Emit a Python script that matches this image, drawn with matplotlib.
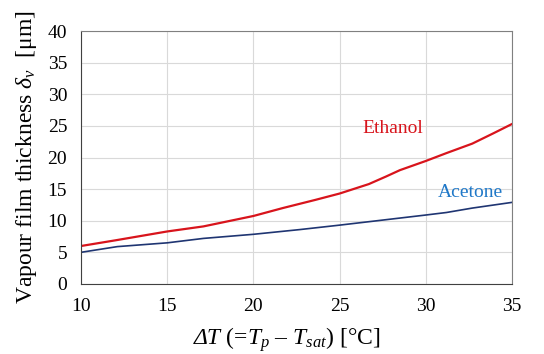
import matplotlib
matplotlib.use("Agg")
import matplotlib.pyplot as plt
from matplotlib.offsetbox import TextArea, HPacker, AnchoredOffsetbox

plt.rcParams['font.family'] = 'Liberation Serif'
plt.rcParams['mathtext.fontset'] = 'custom'
plt.rcParams['mathtext.rm'] = 'Liberation Serif'
plt.rcParams['mathtext.it'] = 'Liberation Serif:italic'

# data
dT_eth = [10, 12, 15, 17.1, 20, 21.7, 23.6, 25, 26.7, 27.7, 28.5, 30, 31.2, 32.7, 33.9, 35]
eth = [6.0, 6.9, 8.3, 9.1, 10.75, 12.0, 13.3, 14.3, 15.8, 17.0, 18.0, 19.45, 20.7, 22.2, 23.8, 25.3]
dT_ace = [10, 12.1, 15, 17.1, 20, 22.7, 25, 27.5, 30, 31.2, 32.7, 35]
ace = [5.0, 5.9, 6.5, 7.2, 7.85, 8.6, 9.3, 10.1, 10.9, 11.3, 12.0, 12.9]

fig = plt.figure(figsize=(5.44, 3.54), dpi=100)
ax = fig.add_axes([0.149, 0.198, 0.792, 0.714])

ax.plot(dT_eth, eth, color='#d8141c', lw=1.6)
ax.plot(dT_ace, ace, color='#1f3572', lw=1.2)

ax.text(26.3, 24.6, 'Ethanol', color='#d8141c', fontsize=14, va='center')
ax.text(30.7, 14.5, 'Acetone', color='#1f78c8', fontsize=14, va='center')

ax.set_xlim(10, 35)
ax.set_ylim(0, 40)
ax.set_xticks(range(10, 36, 5))
ax.set_yticks(range(0, 41, 5))
ax.grid(True, color='#d9d9d9', lw=0.8)
ax.set_axisbelow(True)
ax.tick_params(axis='x', length=0, labelsize=14, pad=10)
ax.tick_params(axis='y', length=0, labelsize=14, pad=10)
for side in ['left', 'bottom']:
    ax.spines[side].set_color('#404040')
for side in ['top', 'right']:
    ax.spines[side].set_color('#808080')

# x label: italic ΔT followed by the rest
part1 = TextArea('ΔT', textprops=dict(fontsize=17, fontstyle='italic'))
part2 = TextArea(r' (=$T_p$ – $T_{sat}$) [°C]', textprops=dict(fontsize=17))
box = HPacker(children=[part1, part2], align='baseline', pad=0, sep=0)
anch = AnchoredOffsetbox(loc='center', child=box, frameon=False, pad=0, borderpad=0,
                         bbox_to_anchor=(0.528, 0.042), bbox_transform=fig.transFigure)
fig.add_artist(anch)

ax.set_ylabel(r'Vapour film thickness $\delta_v$  [μm]', fontsize=17, labelpad=6)

fig.savefig('out.png', dpi=100)
